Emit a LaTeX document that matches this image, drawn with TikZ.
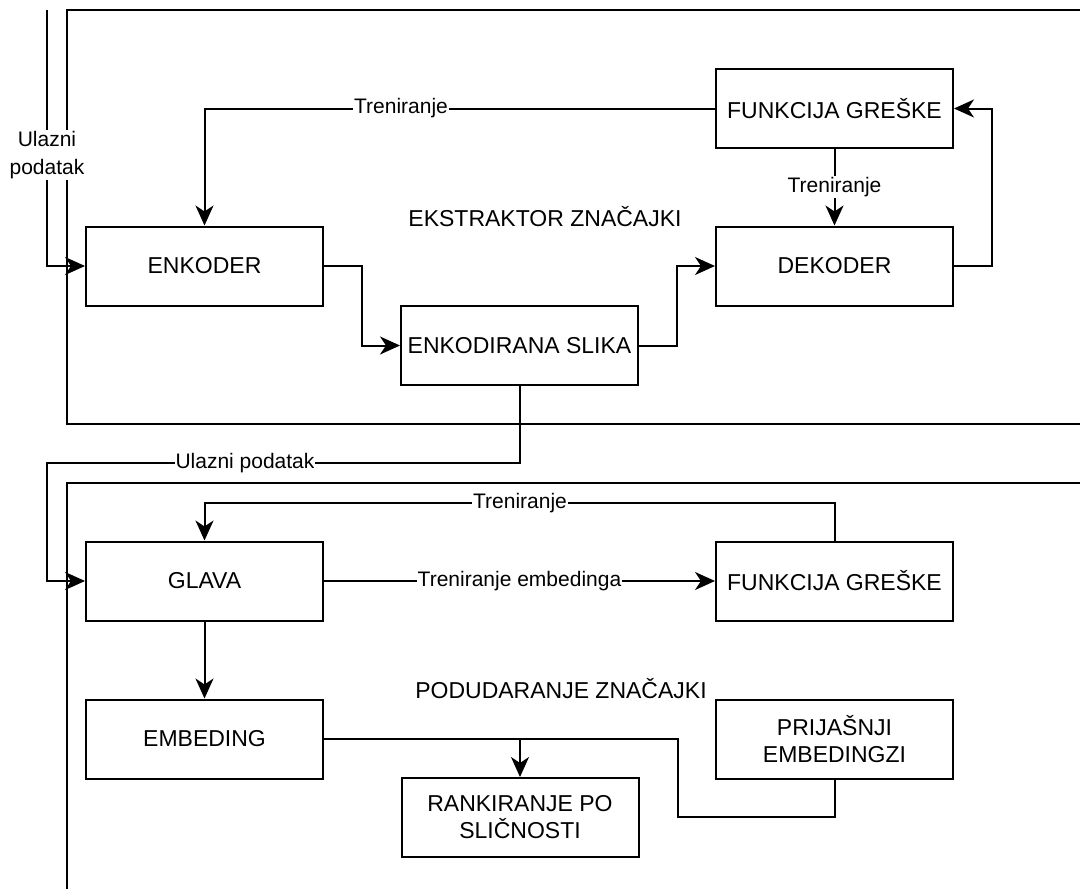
\documentclass[tikz,border=0pt]{standalone}
\usepackage{fontspec}
\setmainfont{Liberation Sans}
\usetikzlibrary{arrows.meta}
\begin{document}
\begin{tikzpicture}[x=1pt,y=-1pt,
  line width=2pt,
  box/.style={draw, line width=2pt, minimum width=237pt, minimum height=79pt, inner sep=2pt, align=center, font=\fontsize{23}{27}\selectfont},
  title/.style={font=\fontsize{23}{27}\selectfont, inner sep=0pt},
  lbl/.style={fill=white, inner sep=1pt, font=\fontsize{21}{28}\selectfont, align=center},
  arr/.style={-{Stealth[length=20pt,width=18pt,inset=6pt]}},
]
\useasboundingbox (0,0) rectangle (1080,889);
\clip (0,0) rectangle (1080,889);

% containers
\draw (1090,10) -- (67,10) -- (67,424) -- (1090,424);
\draw (1090,483) -- (67,483) -- (67,895);

% nodes
\node[box] (enk) at (204.5,266) {ENKODER};
\node[box] (ens) at (519.5,345.5) {ENKODIRANA SLIKA};
\node[box] (dek) at (834.5,266) {DEKODER};
\node[box] (fg1) at (834.5,108.5) {FUNKCIJA GREŠKE};
\node[box] (gla) at (204.5,581) {GLAVA};
\node[box] (fg2) at (834.5,581) {FUNKCIJA GREŠKE};
\node[box] (emb) at (204.5,739) {EMBEDING};
\node[box] (ran) at (520,817.5) {RANKIRANJE PO\\SLIČNOSTI};
\node[box] (pri) at (834.5,739) {PRIJAŠNJI\\EMBEDINGZI};

\node[title] (t1) at (545,217) {EKSTRAKTOR ZNAČAJKI};
\node[title] (t2) at (561,689) {PODUDARANJE ZNAČAJKI};

\coordinate (in0) at (47,10);

% top part connectors
\draw[arr] (in0) |- (enk.west);
\node[lbl] (l0) at (47,155) {Ulazni\\podatak};
\draw[arr] (enk.east) -- (362,266) |- (ens.west);
\draw[arr] (ens.east) -- (677,345.5) |- (dek.west);
\draw[arr] (dek.east) -- (992,266) |- (fg1.east);
\draw[arr] (fg1.south) -- (dek.north) node[lbl, midway] (l1) {Treniranje};
\draw[arr] (fg1.west) -| (enk.north);
\node[lbl] (l2) at (401,108.5) {Treniranje};

% link between parts
\draw[arr] (ens.south) -- (519.5,463) -- (47,463) |- (gla.west);
\node[lbl] (l3) at (245,463) {Ulazni podatak};

% bottom part connectors
\draw[arr] (gla.east) -- (fg2.west) node[lbl, midway] (l4) {Treniranje embedinga};
\draw[arr] (fg2.north) -- (834.5,503) -| (gla.north);
\node[lbl] (l5) at (520,503) {Treniranje};
\draw[arr] (gla.south) -- (emb.north);
\draw[arr] (emb.east) -| (ran.north);
\draw (pri.south) -- (834.5,817) -- (678,817) -- (678,739) -- (520,739);
\end{tikzpicture}
\end{document}
